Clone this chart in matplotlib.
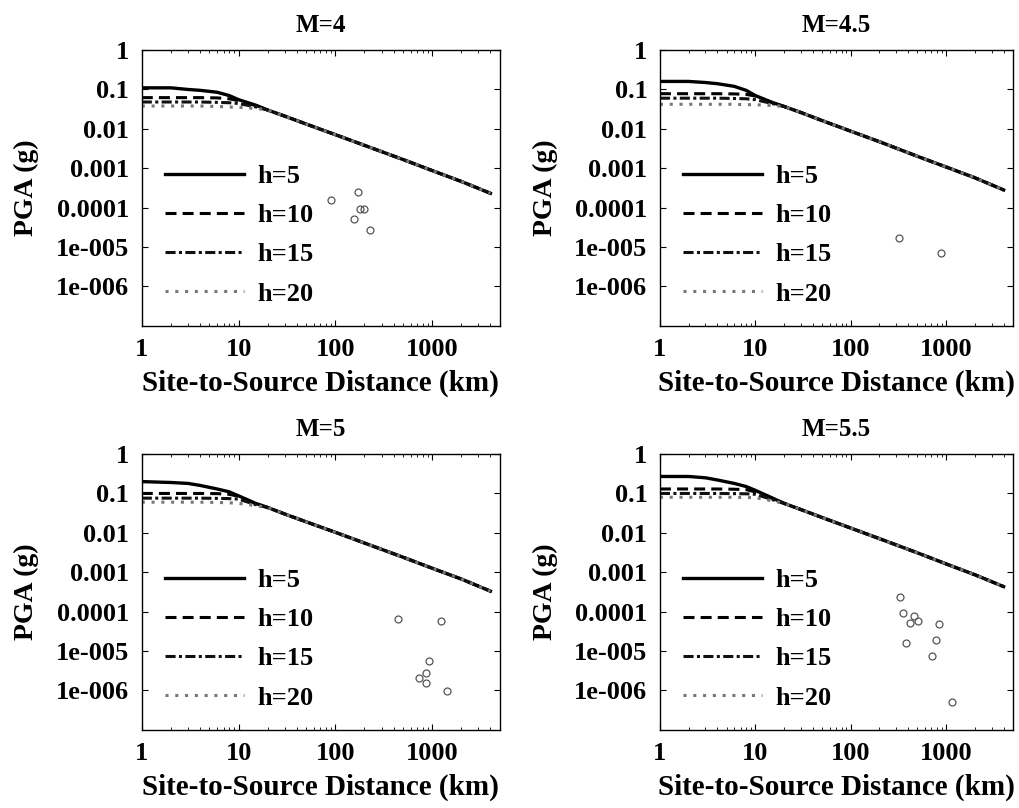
import matplotlib
matplotlib.use("Agg")
import matplotlib.pyplot as plt

# --- data ---
magnitudes = ["M=4", "M=4.5", "M=5", "M=5.5"]
depth_labels = ["h=5", "h=10", "h=15", "h=20"]

# near-field distances (km) where the depth curves differ
near_km = [1, 2, 3, 4, 6, 8, 10, 15]
# far-field distances (km) where all depth curves coincide
tail_km = [20, 30, 50, 100, 200, 500, 1000, 2000, 4000]

# M=4
near_m40 = [
    [0.11, 0.11, 0.10, 0.095, 0.085, 0.07, 0.055, 0.04],
    [0.062, 0.062, 0.062, 0.062, 0.061, 0.058, 0.052, 0.039],
    [0.048, 0.048, 0.048, 0.048, 0.047, 0.046, 0.044, 0.036],
    [0.038, 0.038, 0.038, 0.038, 0.037, 0.036, 0.035, 0.033],
]
tail_m40 = [0.030, 0.021, 0.0132, 0.0071, 0.0038, 0.00166, 0.00087, 0.00046, 0.00023]
obs_km_m40 = [91, 173, 157, 181, 200, 230]
obs_pga_m40 = [1.55e-4, 2.5e-4, 5.2e-5, 9.4e-5, 9.4e-5, 2.65e-5]

# M=4.5
near_m45 = [
    [0.16, 0.16, 0.15, 0.14, 0.12, 0.095, 0.07, 0.047],
    [0.078, 0.078, 0.078, 0.078, 0.077, 0.075, 0.068, 0.046],
    [0.06, 0.06, 0.06, 0.06, 0.059, 0.058, 0.055, 0.044],
    [0.042, 0.042, 0.042, 0.042, 0.042, 0.041, 0.041, 0.039],
]
tail_m45 = [0.037, 0.026, 0.0162, 0.0087, 0.0047, 0.0020, 0.00107, 0.00057, 0.00028]
obs_km_m45 = [318, 887]
obs_pga_m45 = [1.7e-5, 6.8e-6]

# M=5
near_m50 = [
    [0.20, 0.19, 0.18, 0.16, 0.13, 0.11, 0.087, 0.056],
    [0.10, 0.10, 0.10, 0.10, 0.099, 0.095, 0.085, 0.055],
    [0.076, 0.076, 0.076, 0.076, 0.075, 0.074, 0.072, 0.052],
    [0.06, 0.06, 0.06, 0.06, 0.059, 0.058, 0.056, 0.049],
]
tail_m50 = [0.044, 0.030, 0.019, 0.0103, 0.0055, 0.0024, 0.00126, 0.00067, 0.00033]
obs_km_m50 = [441, 1220, 924, 867, 728, 867, 1407]
obs_pga_m50 = [6.4e-5, 5.8e-5, 5.6e-6, 2.8e-6, 2.0e-6, 1.57e-6, 9.6e-7]

# M=5.5
near_m55 = [
    [0.27, 0.27, 0.25, 0.22, 0.18, 0.15, 0.12, 0.077],
    [0.13, 0.13, 0.13, 0.13, 0.128, 0.125, 0.11, 0.075],
    [0.10, 0.10, 0.10, 0.10, 0.099, 0.098, 0.095, 0.07],
    [0.08, 0.08, 0.08, 0.08, 0.08, 0.079, 0.078, 0.065],
]
tail_m55 = [0.056, 0.039, 0.0245, 0.0132, 0.0071, 0.0031, 0.00162, 0.00086, 0.00043]
obs_km_m55 = [332, 351, 458, 422, 512, 838, 381, 785, 713, 1156]
obs_pga_m55 = [2.36e-4, 9.4e-5, 7.7e-5, 5.2e-5, 5.8e-5, 4.8e-5, 1.6e-5, 1.86e-5, 7.5e-6, 5.0e-7]

y_ticks = [1e-6, 1e-5, 1e-4, 1e-3, 1e-2, 1e-1, 1]
y_tick_labels = ["1e-006", "1e-005", "0.0001", "0.001", "0.01", "0.1", "1"]
x_ticks = [1, 10, 100, 1000]
x_tick_labels = ["1", "10", "100", "1000"]

panels = [
    (magnitudes[0], near_m40, tail_m40, obs_km_m40, obs_pga_m40),
    (magnitudes[1], near_m45, tail_m45, obs_km_m45, obs_pga_m45),
    (magnitudes[2], near_m50, tail_m50, obs_km_m50, obs_pga_m50),
    (magnitudes[3], near_m55, tail_m55, obs_km_m55, obs_pga_m55),
]

# --- style ---
plt.rcParams["font.family"] = ["Liberation Serif", "DejaVu Serif"]
plt.rcParams["font.weight"] = "bold"

line_styles = [
    {"color": "black", "linestyle": "-", "lw": 2.4},
    {"color": "black", "linestyle": (0, (3.6, 2.0)), "lw": 2.2},
    {"color": "#111111", "linestyle": (0, (3.3, 1.1, 1.0, 1.1)), "lw": 2.2},
    {"color": "#777777", "linestyle": (0, (1.0, 2.2)), "lw": 2.2},
]

fig = plt.figure(figsize=(10.2, 8.08), dpi=100)
positions = [
    [0.139, 0.597, 0.351, 0.341],
    [0.647, 0.597, 0.346, 0.341],
    [0.139, 0.097, 0.351, 0.341],
    [0.647, 0.097, 0.346, 0.341],
]

for pos, (title, near, tail, ok, op) in zip(positions, panels):
    ax = fig.add_axes(pos)
    for vals, style, lab in zip(near, line_styles, depth_labels):
        ax.plot(near_km + tail_km, vals + tail, label=lab, **style)
    ax.plot(ok, op, linestyle="none", marker="o", markersize=5,
            markerfacecolor="none", markeredgecolor="#555555", markeredgewidth=0.9)

    ax.set_xscale("log")
    ax.set_yscale("log")
    ax.set_xlim(1, 5000)
    ax.set_ylim(1e-7, 1)
    ax.set_yticks(y_ticks)
    ax.set_yticklabels(y_tick_labels)
    ax.set_xticks(x_ticks)
    ax.set_xticklabels(x_tick_labels)
    ax.yaxis.set_minor_locator(matplotlib.ticker.NullLocator())
    ax.tick_params(which="both", direction="in", top=True, right=True,
                   labelsize=19, pad=9)
    ax.tick_params(which="major", length=4)
    ax.tick_params(which="minor", length=2)
    for sp in ax.spines.values():
        sp.set_linewidth(1.0)

    ax.set_title(title, fontsize=18, fontweight="bold", pad=13)
    ax.set_xlabel("Site-to-Source Distance (km)", fontsize=21, fontweight="bold", labelpad=6)
    ax.set_ylabel("PGA (g)", fontsize=20, fontweight="bold", labelpad=12)

    ax.legend(loc="lower left", bbox_to_anchor=(0.035, 0.034), frameon=False,
              fontsize=19, handlelength=3.0, handletextpad=0.5,
              labelspacing=0.6, borderaxespad=0.0)

fig.savefig("out.png", dpi=100)
